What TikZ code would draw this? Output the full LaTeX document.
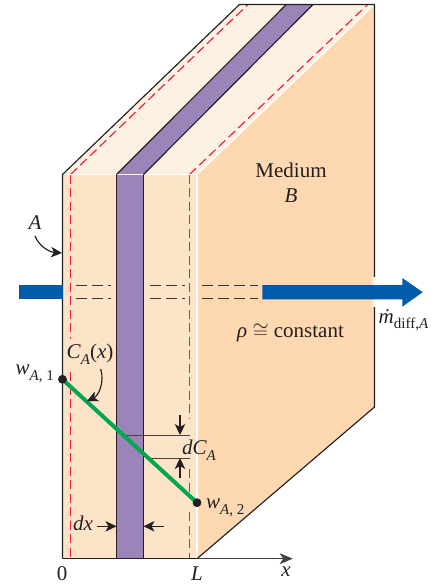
\documentclass[tikz,border=0pt]{standalone}
\usepackage{fontspec}
\setmainfont{Liberation Serif}
\usetikzlibrary{arrows.meta}
\definecolor{frontc}{HTML}{FDE3C8}
\definecolor{sidec}{HTML}{FDD8B0}
\definecolor{topc}{HTML}{FDF1E2}
\definecolor{purp}{HTML}{9C84BA}
\definecolor{bluec}{HTML}{005BAA}
\definecolor{greenc}{HTML}{00A651}
\definecolor{redc}{HTML}{ED1C3A}
\definecolor{inkc}{HTML}{231F20}
\newcommand{\lsub}[1]{\raisebox{-0.26em}{\fontsize{15}{17}\selectfont #1}}
\tikzset{
  edgeline/.style={draw=inkc,line width=1.15pt},
  whiteline/.style={draw=white,line width=1.1pt},
  reddash/.style={draw=redc,line width=1.15pt,dash pattern=on 9pt off 4.5pt},
  blackdash/.style={draw=inkc!90,line width=1.15pt,dash pattern=on 11pt off 5pt},
  thin tick/.style={draw=inkc!85,line width=0.9pt},
  pointer/.style={draw=inkc,line width=1.15pt,-{Stealth[length=11pt,width=10.5pt,inset=3pt]}},
  lab/.style={font=\fontsize{21}{24}\selectfont,text=inkc,inner sep=0pt},
  dot/.style={circle,fill=inkc,inner sep=0pt,minimum size=8.5pt}
}
\begin{document}
\begin{tikzpicture}[x=1pt,y=-1pt]
\useasboundingbox (0,0) rectangle (445,584);
% corners
\coordinate (fTL) at (62.5,174.5);
\coordinate (fTR) at (197,174.5);
\coordinate (fBL) at (62.5,558.7);
\coordinate (fBR) at (197,558.7);
\coordinate (bTL) at (239.5,4.5);
\coordinate (bTR) at (374.5,4.5);
\coordinate (bBR) at (374.5,407);
\coordinate (pL) at (116.5,174.5);
\coordinate (pR) at (143.5,174.5);
\coordinate (pLb) at (116.5,558.7);
\coordinate (pRb) at (143.5,558.7);
\coordinate (bpL) at (286.3,4.5);
\coordinate (bpR) at (313,4.5);
% faces
\fill[sidec] (fTR) -- (bTR) -- (bBR) -- (fBR) -- cycle;
\fill[topc] (fTL) -- (bTL) -- (bTR) -- (fTR) -- cycle;
\fill[frontc] (fTL) rectangle (fBR);
\fill[purp] (pL) rectangle (pRb);
\fill[purp] (pL) -- (bpL) -- (bpR) -- (pR) -- cycle;
% red dashed lines
\draw[reddash] (70.5,174.5) -- (70.5,339);
\draw[reddash] (70.5,372) -- (70.5,558);
\draw[reddash] (189.5,174.5) -- (189.5,418);
\draw[reddash] (189.5,469) -- (189.5,496);
\draw[reddash] (189.5,512) -- (189.5,558);
\draw[reddash] (70.5,174.5) -- (248,4.5);
\draw[reddash] (189.5,174.5) -- (367.7,4.5);
% edges
\draw[whiteline] (fTL) -- (fTR);
\draw[whiteline] (fTR) -- (fBR);
\draw[whiteline] (fTR) -- (bTR);
\draw[edgeline] (pL) -- (pLb);
\draw[edgeline] (pR) -- (pRb);
\draw[edgeline] (pL) -- (bpL);
\draw[edgeline] (pR) -- (bpR);
\draw[edgeline,line join=miter] (fBL) -- (fTL) -- (bTL) -- (bTR) -- (374.5,277.3);
\draw[edgeline] (374.5,306.7) -- (bBR) -- (fBR);
% axis
\coordinate (axisEnd) at (292.7,558.7);
\draw[draw=inkc!85,line width=1.15pt,-{Stealth[length=13pt,width=11pt,inset=3.5pt]}] (fBL) -- (axisEnd);
\draw[edgeline] (fBL) -- (fBR);
% blue flow
\fill[bluec] (19,285) rectangle (62.5,299.3);
\fill[sidec!40!white] (372,277.3) rectangle (375,306.7);
\fill[bluec] (262.3,285) -- (402.3,285) -- (402.3,278) -- (422.7,292.2) -- (402.3,306.7) -- (402.3,299.3) -- (262.3,299.3) -- cycle;
% dashed path of flow
\foreach \yy in {285.7,298.7}{
  \draw[blackdash] (76,\yy) -- (111,\yy);
  \draw[blackdash] (150,\yy) -- (185,\yy);
  \draw[blackdash] (202,\yy) -- (258,\yy);
}
% concentration
\draw[thin tick] (124,435.3) coordinate (uA) -- (190,435.3) coordinate (uB);
\draw[thin tick] (149,458) coordinate (lA) -- (190,458) coordinate (lB);
\node[dot] (w1) at (62.5,379.3) {};
\node[dot] (w2) at (197,502.7) {};
\draw[draw=greenc,line width=4pt] (w1.center) -- (w2.center);
\node[dot] at (w1.center) {};
\node[dot] at (w2.center) {};
% small arrows
\coordinate (dcUs) at (180,415);
\coordinate (dcUe) at (180,435);
\coordinate (dcLs) at (180,478);
\coordinate (dcLe) at (180,458);
\draw[pointer] (dcUs) -- (dcUe);
\draw[pointer] (dcLs) -- (dcLe);
\coordinate (dxLs) at (96.7,526.3);
\coordinate (dxLe) at (116.5,526.3);
\coordinate (dxRs) at (163.7,526.3);
\coordinate (dxRe) at (143.5,526.3);
\draw[pointer] (dxLs) -- (dxLe);
\draw[pointer] (dxRs) -- (dxRe);
% labels
\node[lab] (labA) at (35,223) {\textit{A}};
\coordinate (Ae) at (62,253);
\coordinate (As) at (35,236);
\draw[pointer] (As) .. controls (39,246) and (49,252) .. (Ae);
\node[lab] (labC) at (90,354) {\textit{C}\lsub{\textit{A}}(\textit{x})};
\coordinate (Cs) at (100.7,369);
\coordinate (Ce) at (87,401);
\draw[pointer] (Cs) .. controls (105,383) and (98,396) .. (Ce);
\node[lab,anchor=east] (labw1) at (54,374) {\textit{w}\lsub{\textit{A}, 1}};
\node[lab,anchor=west] (labw2) at (206,508) {\textit{w}\lsub{\textit{A}, 2}};
\node[lab] (labdC) at (199,450) {\textit{dC}\lsub{\textit{A}}};
\node[lab] (labdx) at (83,523) {\textit{dx}};
\node[lab] (lab0) at (62,574) {0};
\node[lab] (labL) at (197,574) {\textit{L}};
\node[lab] (labx) at (286,572) {\textit{x}};
\node[lab] (labM) at (291,170) {Medium};
\node[lab] (labB) at (291,196) {\textit{B}};
\node[lab,anchor=west] (labm) at (378.5,320) {\textit{ṁ}\lsub{diff,\textit{A}}};
\node[lab,anchor=west] (labr) at (237,333) {\textit{ρ} $\cong$ constant};
\end{tikzpicture}
\end{document}
